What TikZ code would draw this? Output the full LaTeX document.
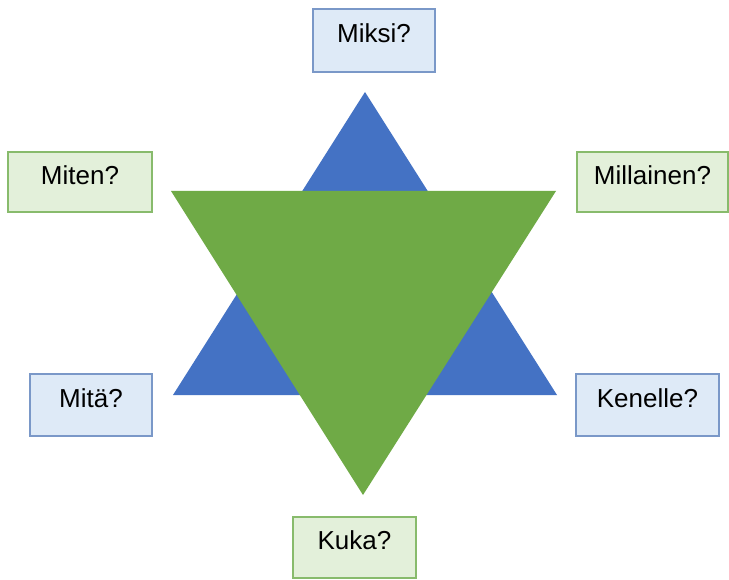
\documentclass[tikz,border=0pt]{standalone}
\usepackage{fontspec}
\setmainfont{Liberation Sans}
\definecolor{triblue}{HTML}{4472C4}
\definecolor{trigreen}{HTML}{6FAA46}
\definecolor{boxblue}{HTML}{DEEAF7}
\definecolor{boxblueline}{HTML}{7A98C8}
\definecolor{boxgreen}{HTML}{E3F0DA}
\definecolor{boxgreenline}{HTML}{88BB6C}
\begin{document}
\begin{tikzpicture}[x=1pt,y=-1pt,
  qbox/.style={draw, line width=1.2pt, rectangle, inner sep=0pt,
    font=\fontsize{26}{30}\selectfont, text height=19pt, text depth=14.5pt},
  bluebox/.style={qbox, fill=boxblue, draw=boxblueline},
  greenbox/.style={qbox, fill=boxgreen, draw=boxgreenline}]
\useasboundingbox (0,0) rectangle (729,580);
\fill[white] (0,0) rectangle (729,580);
% triangles
\coordinate (bt) at (365,92);
\coordinate (bl) at (173,395);
\coordinate (br) at (557,395);
\coordinate (gl) at (171,191);
\coordinate (gr) at (556,191);
\coordinate (gb) at (363,495);
\fill[triblue] (bt) -- (bl) -- (br) -- cycle;
\fill[trigreen] (gl) -- (gr) -- (gb) -- cycle;
% boxes
\node[bluebox, minimum width=122pt, minimum height=63pt] (miksi) at (374,40.5) {Miksi?};
\node[greenbox, minimum width=144pt, minimum height=60pt] (miten) at (80,182) {Miten?};
\node[greenbox, minimum width=151pt, minimum height=60pt] (millainen) at (652.5,182) {Millainen?};
\node[bluebox, minimum width=122pt, minimum height=62pt] (mita) at (91,405) {Mitä?};
\node[bluebox, minimum width=143pt, minimum height=62pt] (kenelle) at (647.5,405) {Kenelle?};
\node[greenbox, minimum width=123pt, minimum height=61pt] (kuka) at (354.5,547.5) {Kuka?};
\end{tikzpicture}
\end{document}
